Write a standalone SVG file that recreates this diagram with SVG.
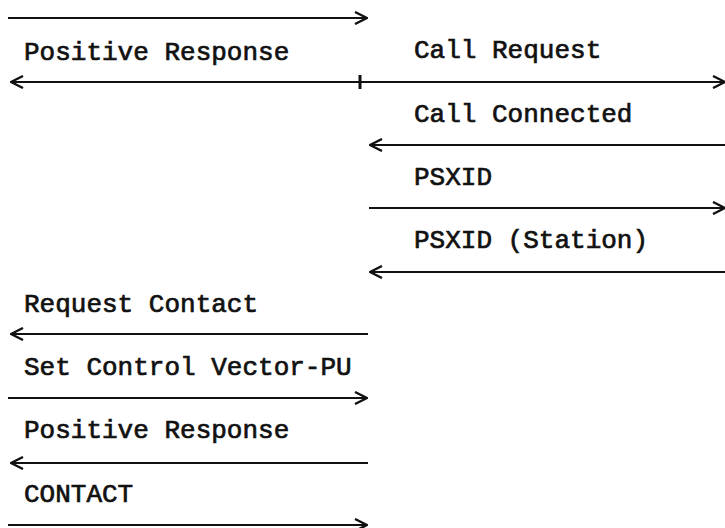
<svg xmlns="http://www.w3.org/2000/svg" width="725" height="528" viewBox="0 0 725 528">
<style>
  .lbl { font-family: "Liberation Mono", "DejaVu Sans Mono", monospace; font-size: 26px; fill: #111; stroke: #111; stroke-width: 0.7; }
  .ln { stroke: #111; stroke-width: 2; fill: none; }
  .tick { stroke: #111; stroke-width: 3; fill: none; }
</style>
<defs>
  <marker id="chev" viewBox="0 0 14 14" refX="13" refY="7" markerWidth="14" markerHeight="14" markerUnits="userSpaceOnUse" orient="auto-start-reverse">
    <path d="M1,1 L13,7 L1,13" fill="none" stroke="#111" stroke-width="2.4"/>
  </marker>
</defs>
<rect width="725" height="528" fill="#fff"/>
<g id="connectors">
  <line class="ln" x1="8" y1="18" x2="367" y2="18" marker-end="url(#chev)"/>
  <line class="ln" x1="11" y1="82" x2="360" y2="82" marker-start="url(#chev)"/>
  <line class="ln" x1="360" y1="82" x2="725" y2="82" marker-end="url(#chev)"/>
  <line class="tick" x1="360" y1="75" x2="360" y2="89"/>
  <line class="ln" x1="370" y1="145" x2="725" y2="145" marker-start="url(#chev)"/>
  <line class="ln" x1="369" y1="208" x2="725" y2="208" marker-end="url(#chev)"/>
  <line class="ln" x1="370" y1="272" x2="725" y2="272" marker-start="url(#chev)"/>
  <line class="ln" x1="11" y1="334" x2="368" y2="334" marker-start="url(#chev)"/>
  <line class="ln" x1="8" y1="398" x2="367" y2="398" marker-end="url(#chev)"/>
  <line class="ln" x1="11" y1="463" x2="368" y2="463" marker-start="url(#chev)"/>
  <line class="ln" x1="8" y1="525" x2="367" y2="525" marker-end="url(#chev)"/>
</g>
<g id="msg-positive-response-1"><text class="lbl" x="24" y="60">Positive Response</text></g>
<g id="msg-call-request"><text class="lbl" x="414" y="58">Call Request</text></g>
<g id="msg-call-connected"><text class="lbl" x="414" y="122">Call Connected</text></g>
<g id="msg-psxid"><text class="lbl" x="414" y="185">PSXID</text></g>
<g id="msg-psxid-station"><text class="lbl" x="414" y="248">PSXID (Station)</text></g>
<g id="msg-request-contact"><text class="lbl" x="24" y="312">Request Contact</text></g>
<g id="msg-set-control-vector"><text class="lbl" x="24" y="375">Set Control Vector-PU</text></g>
<g id="msg-positive-response-2"><text class="lbl" x="24" y="438">Positive Response</text></g>
<g id="msg-contact"><text class="lbl" x="24" y="502">CONTACT</text></g>
</svg>
